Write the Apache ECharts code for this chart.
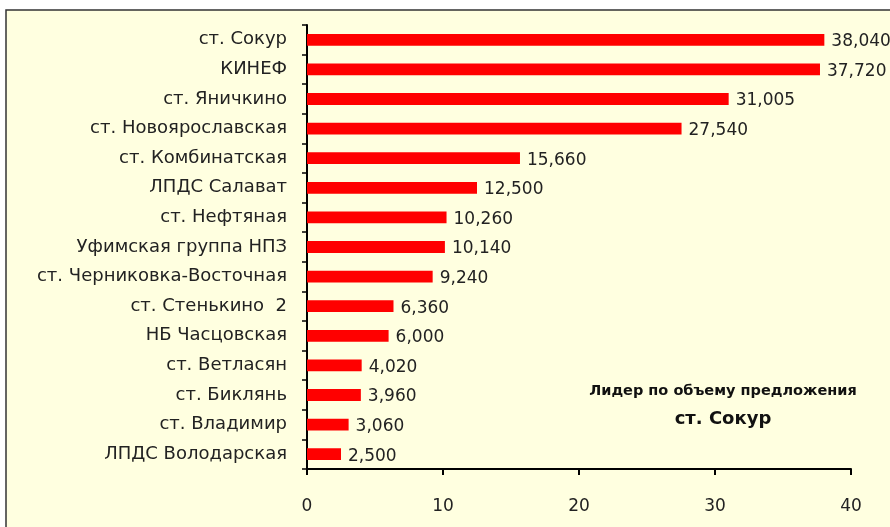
<!DOCTYPE html>
<html><head><meta charset="utf-8">
<script src="https://cdn.jsdelivr.net/npm/echarts@6/dist/echarts.min.js"></script>
<style>html,body{margin:0;padding:0;background:#fff;}#c{width:890px;height:527px;}</style>
</head><body><div id="c"></div>
<script>
const categories = ["ст. Сокур","КИНЕФ","ст. Яничкино","ст. Новоярославская","ст. Комбинатская","ЛПДС Салават","ст. Нефтяная","Уфимская группа НПЗ","ст. Черниковка-Восточная","ст. Стенькино  2","НБ Часцовская","ст. Ветласян","ст. Биклянь","ст. Владимир","ЛПДС Володарская"];
const values = [38040,37720,31005,27540,15660,12500,10260,10140,9240,6360,6000,4020,3960,3060,2500];
const xTicks = [0,10,20,30,40];
const noteLine1 = "Лидер по объему предложения";
const noteLine2 = "ст. Сокур";

const FONT = "'DejaVu Sans', sans-serif";
const chart = echarts.init(document.getElementById('c'), null, {renderer:'canvas'});
chart.setOption({
  animation:false,
  backgroundColor:'#ffffff',
  graphic:[
    {type:'rect', z:-10, shape:{x:6,y:10,width:900,height:540}, style:{fill:'#FFFFE0', stroke:'#333333', lineWidth:1.5}},
    {type:'text', x:723, y:391, style:{text:noteLine1, font:"bold 14.5px "+FONT, fill:'#111', align:'center', verticalAlign:'middle'}},
    {type:'text', x:723, y:419, style:{text:noteLine2, font:"bold 18px "+FONT, fill:'#111', align:'center', verticalAlign:'middle'}}
  ],
  grid:{left:307, right:39, top:25, bottom:58, containLabel:false},
  xAxis:{type:'value', min:0, max:40000, interval:10000,
    axisLine:{show:true, lineStyle:{color:'#000', width:2}},
    axisTick:{show:true, length:6, lineStyle:{color:'#000', width:2}},
    splitLine:{show:false},
    axisLabel:{color:'#222', fontSize:17, fontFamily:FONT, margin:29, formatter:v=>String(xTicks[Math.round(v/10000)])}
  },
  yAxis:{type:'category', data:categories, inverse:true,
    axisLine:{show:true, lineStyle:{color:'#000', width:2}},
    axisTick:{show:true, length:5, lineStyle:{color:'#000', width:1.5}},
    axisLabel:{color:'#222', fontSize:18, fontFamily:FONT, margin:20}
  },
  series:[{type:'bar', data:values, barCategoryGap:'60%',
    itemStyle:{color:'#FF0000'},
    label:{show:true, position:'right', distance:7, offset:[0,2], color:'#222', fontSize:17, fontFamily:FONT,
      formatter:p=>p.value.toLocaleString('en-US')}
  }]
});
</script></body></html>
